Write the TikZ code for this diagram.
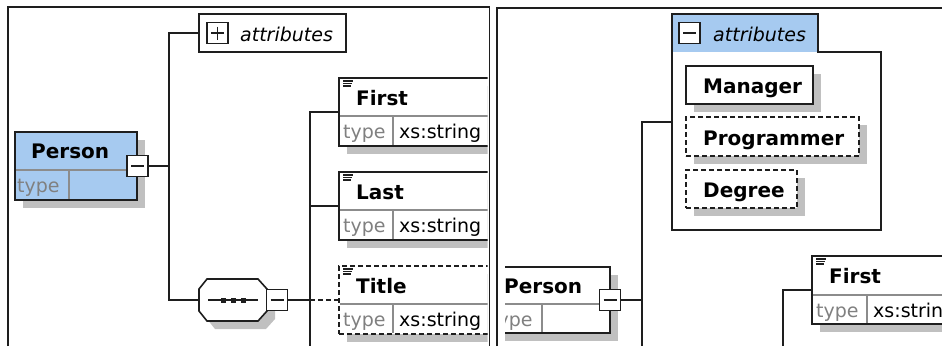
\documentclass[tikz,border=0pt]{standalone}
\usepackage{fontspec}
\setmainfont{DejaVu Sans}
\usetikzlibrary{shadows}
\definecolor{hdrblue}{RGB}{166,202,240}
\definecolor{shadowc}{RGB}{192,192,192}
\definecolor{linec}{RGB}{30,30,30}
\definecolor{sepc}{RGB}{140,140,140}
\definecolor{typec}{RGB}{128,128,128}
\tikzset{
  frame/.style={draw=linec, line width=1.8pt},
  elbox/.style={draw=linec, line width=1.5pt, fill=white, inner sep=0pt, outer sep=0pt, anchor=north west},
  shad/.style={drop shadow={shadow xshift=8pt, shadow yshift=-8pt, fill=shadowc, opacity=1}},
  dbox/.style={dash pattern=on 5pt off 3pt},
  conn/.style={draw=linec, line width=1.6pt},
  sepl/.style={draw=sepc, line width=1.1pt},
  ttl/.style={font=\fontsize{20}{24}\selectfont\bfseries, inner sep=0pt, anchor=base west},
  typ/.style={font=\fontsize{19}{23}\selectfont, text=typec, inner sep=0pt, anchor=base west},
  val/.style={font=\fontsize{19}{23}\selectfont, text=black, inner sep=0pt, anchor=base west},
  attr/.style={font=\fontsize{19}{23}\selectfont\itshape, inner sep=0pt, anchor=base west},
  pmbox/.style={draw=linec, line width=1.5pt, fill=white, minimum width=21pt, minimum height=21pt, inner sep=0pt, outer sep=0pt},
  minus/.style={pmbox, path picture={\draw[linec, line width=1.6pt] ([xshift=4pt]path picture bounding box.west) -- ([xshift=-4pt]path picture bounding box.east);}},
  plus/.style={pmbox, path picture={\draw[linec, line width=1.6pt] ([xshift=4pt]path picture bounding box.west) -- ([xshift=-4pt]path picture bounding box.east);
     \draw[linec, line width=1.6pt] ([yshift=-4pt]path picture bounding box.north) -- ([yshift=4pt]path picture bounding box.south);}},
  icon/.style={draw=linec, line width=1.1pt},
}
\begin{document}
\begin{tikzpicture}[x=1pt,y=-1pt]
\useasboundingbox (0,0) rectangle (942,346);
% panel frames
\draw[frame] (8,346) -- (8,7) -- (489.5,7) -- (489.5,346);
\draw[frame] (497,346) -- (497,8) -- (942,8);

% ================= left panel =================
\begin{scope}
\clip (9,8) rectangle (487.5,346);
\coordinate (jL) at (169,166);
\coordinate (jS) at (310,300);
% Person
\node[elbox, shad, fill=hdrblue, minimum width=122pt, minimum height=68pt] (personL) at (15,132) {};
\draw[sepl] (15.8,170) -- (136.2,170);
\draw[sepl] (69,170) -- (69,199.2);
\node[ttl] (personLt) at (31,158) {Person};
\node[typ] (personLty) at (17,192) {type};
\node[minus] (pmL) at (137.5,166) {};
% attributes (collapsed)
\node[elbox, minimum width=147pt, minimum height=38pt] (attrL) at (199,14) {};
\node[plus] (ppL) at (217.5,33) {};
\node[attr] (attrLt) at (240,41) {attributes};
% sequence compositor
\node[inner sep=0pt, outer sep=0pt, minimum width=68pt, minimum height=42pt, anchor=north west] (seq) at (199,279) {};
\fill[shadowc] (207,297) -- (215,287) -- (266,287) -- (275,297) -- (275,319) -- (266,329) -- (215,329) -- (207,319) -- cycle;
\filldraw[conn, fill=white] (199,289) -- (207,279) -- (258,279) -- (267,289) -- (267,311) -- (258,321) -- (207,321) -- (199,311) -- cycle;
\draw[conn] (208,300) -- (258,300);
\fill[linec] (220.5,297.5) rectangle (225.5,302.5);
\fill[linec] (230.5,297.5) rectangle (235.5,302.5);
\fill[linec] (240.5,297.5) rectangle (245.5,302.5);
\node[minus] (pmS) at (277,300) {};
% child elements
\node[elbox, shad, minimum width=170pt, minimum height=68pt] (firstL) at (339,78) {};
\draw[sepl] (339.8,116) -- (500,116);
\draw[sepl] (393,116) -- (393,145.2);
\draw[icon] (343,81) -- ++(10,0);
\draw[icon] (343,83.5) -- ++(9,0);
\draw[icon] (343,86) -- ++(8,0);
\node[ttl] (firstLt) at (356,105) {First};
\node[typ] (firstLty) at (343,138) {type};
\node[val] (firstLv) at (399,138) {xs:string};

\node[elbox, shad, minimum width=170pt, minimum height=68pt] (lastL) at (339,172) {};
\draw[sepl] (339.8,210) -- (500,210);
\draw[sepl] (393,210) -- (393,239.2);
\draw[icon] (343,175) -- ++(10,0);
\draw[icon] (343,177.5) -- ++(9,0);
\draw[icon] (343,180) -- ++(8,0);
\node[ttl] (lastLt) at (356,199) {Last};
\node[typ] (lastLty) at (343,232) {type};
\node[val] (lastLv) at (399,232) {xs:string};

\node[elbox, shad, dbox, minimum width=170pt, minimum height=68pt] (titleL) at (339,266) {};
\draw[sepl] (339.8,304) -- (500,304);
\draw[sepl] (393,304) -- (393,333.2);
\draw[icon] (343,269) -- ++(10,0);
\draw[icon] (343,271.5) -- ++(9,0);
\draw[icon] (343,274) -- ++(8,0);
\node[ttl] (titleLt) at (356,293) {Title};
\node[typ] (titleLty) at (343,326) {type};
\node[val] (titleLv) at (399,326) {xs:string};
% connector lines
\draw[conn] (pmL.east) -- (jL);
\draw[conn] (attrL.west) -| (jL) |- (seq.west);
\draw[conn] (pmS.east) -- (jS);
\draw[conn] (firstL.west) -| (310,346);
\draw[conn] (lastL.west) -- (lastL.west -| jS);
\draw[conn, dbox] (jS) -- (titleL.west);
\end{scope}

% ================= right panel =================
\begin{scope}
\clip (505,9) rectangle (942,346);
\coordinate (jR) at (642,300);
% Person (collapsed view)
\node[elbox, shad, minimum width=122pt, minimum height=66pt] (personR) at (488,267) {};
\draw[sepl] (488.8,304) -- (609.2,304);
\draw[sepl] (542,304) -- (542,332.2);
\node[ttl] (personRt) at (504,293) {Person};
\node[typ] (personRty) at (490,326) {type};
\node[minus] (pmR) at (610,300) {};
% attributes container
\node[inner sep=0pt, outer sep=0pt, minimum width=209pt, minimum height=216pt, anchor=north west] (cont) at (672,14) {};
\fill[white] (672,14) -- (818,14) -- (818,52) -- (881,52) -- (881,230) -- (672,230) -- cycle;
\fill[hdrblue] (672,14) rectangle (818,52);
\draw[conn] (cont.north west) -- (818,14) -- (818,52) -- (881,52) -- (cont.south east) -- (cont.south west) -- cycle;
\node[minus] (pmA) at (689.5,33) {};
\node[attr] (attrRt) at (713,41) {attributes};
\node[elbox, shad, minimum width=127pt, minimum height=38pt] (mgr) at (686,66) {};
\node[ttl] (mgrt) at (703,93) {Manager};
\node[elbox, shad, dbox, minimum width=173pt, minimum height=39pt] (prog) at (686,117) {};
\node[ttl] (progt) at (703,145) {Programmer};
\node[elbox, shad, dbox, minimum width=111pt, minimum height=38pt] (deg) at (686,170) {};
\node[ttl] (degt) at (703,197) {Degree};
% First element
\node[elbox, shad, minimum width=150pt, minimum height=68pt] (firstR) at (812,256) {};
\draw[sepl] (812.8,295) -- (960,295);
\draw[sepl] (867,295) -- (867,323.2);
\draw[icon] (816,259) -- ++(10,0);
\draw[icon] (816,261.5) -- ++(9,0);
\draw[icon] (816,264) -- ++(8,0);
\node[ttl] (firstRt) at (829,283) {First};
\node[typ] (firstRty) at (816,317) {type};
\node[val] (firstRv) at (873,317) {xs:string};
% connectors
\draw[conn] (pmR.east) -- (jR);
\draw[conn] (cont.west) -| (642,346);
\draw[conn] (firstR.west) -| (783,346);
\end{scope}
\end{tikzpicture}
\end{document}
